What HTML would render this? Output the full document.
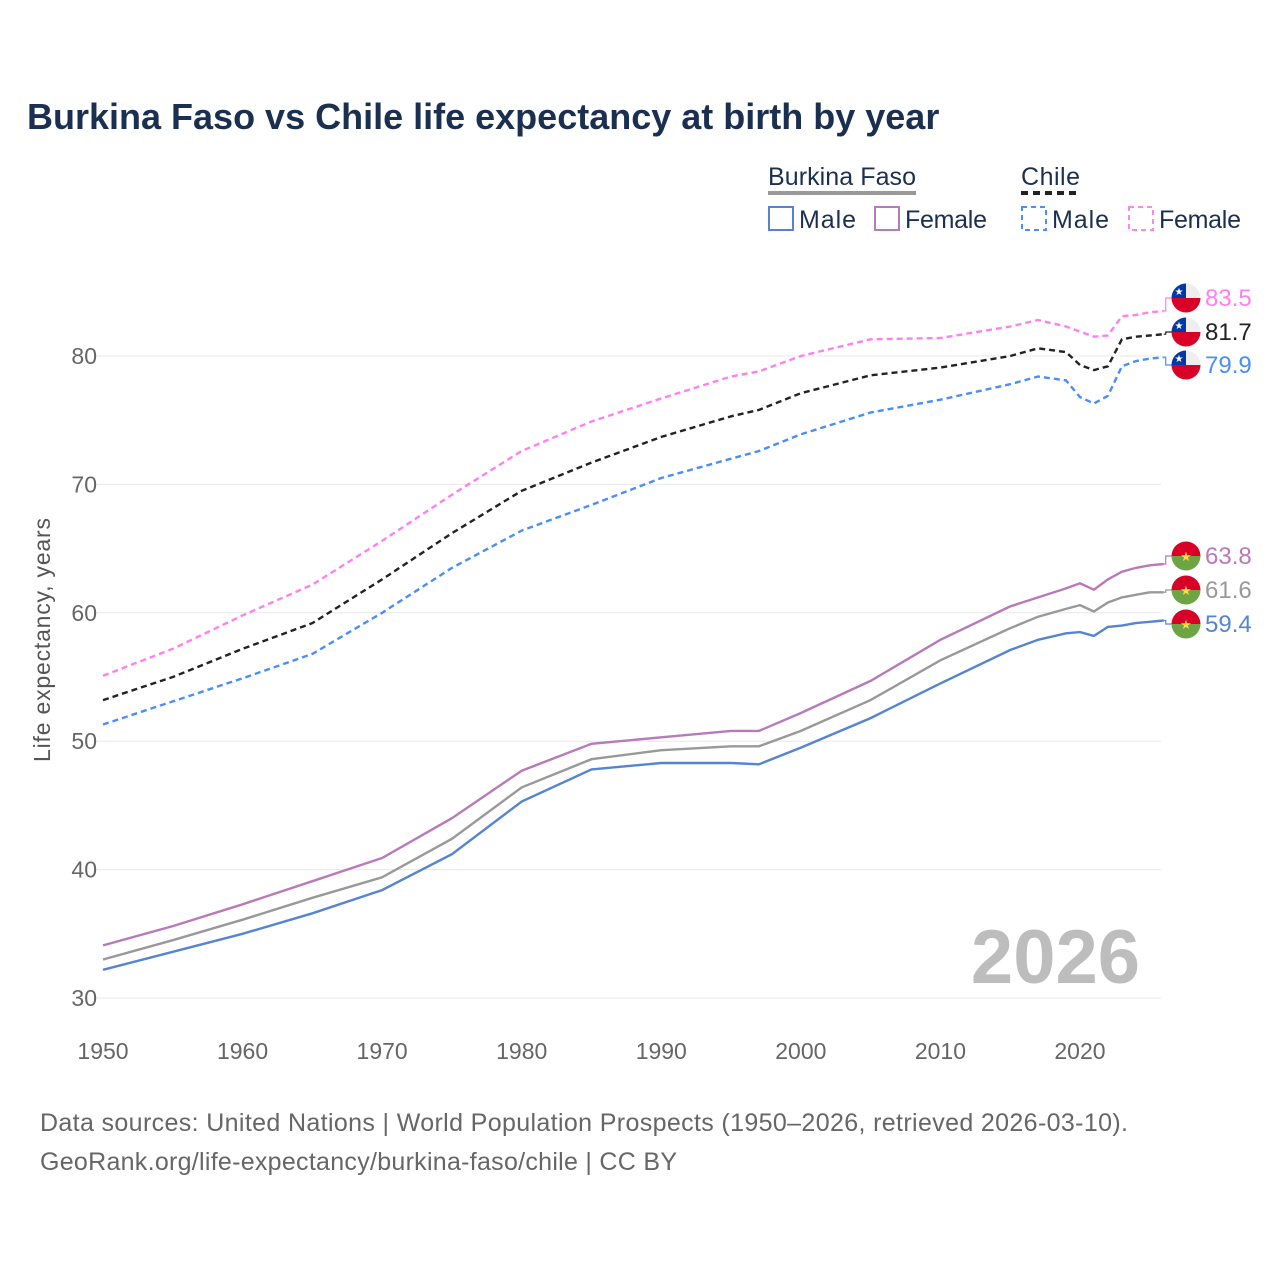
<!DOCTYPE html>
<html><head><meta charset="utf-8"><style>
body{margin:0;background:#fff;font-family:"Liberation Sans",sans-serif}
</style></head><body>
<svg id="chart" width="1280" height="1280" viewBox="0 0 1280 1280" xmlns="http://www.w3.org/2000/svg" font-family="Liberation Sans, sans-serif">
<rect width="1280" height="1280" fill="#fff"/>
<text x="27" y="129" font-size="36" font-weight="bold" fill="#1b3050">Burkina Faso vs Chile life expectancy at birth by year</text>
<g font-size="25" fill="#1b3050">
<text x="768" y="185" textLength="148">Burkina Faso</text>
<line x1="768" y1="193" x2="916" y2="193" stroke="#999" stroke-width="4"/>
<text x="1021" y="185" textLength="59">Chile</text>
<line x1="1021" y1="193" x2="1080" y2="193" stroke="#222" stroke-width="4" stroke-dasharray="7,5"/>
<g><rect x="769" y="207" width="24" height="23" fill="none" stroke="#5585d0" stroke-width="2"/><text x="799" y="228" textLength="57">Male</text></g>
<g><rect x="875" y="207" width="24" height="23" fill="none" stroke="#b87ab8" stroke-width="2"/><text x="905" y="228" textLength="82">Female</text></g>
<g><rect x="1022" y="207" width="24" height="23" fill="none" stroke="#4a8ef7" stroke-width="2" stroke-dasharray="5,4"/><text x="1052" y="228" textLength="57">Male</text></g>
<g><rect x="1129" y="207" width="24" height="23" fill="none" stroke="#ff85f0" stroke-width="2" stroke-dasharray="5,4"/><text x="1159" y="228" textLength="82">Female</text></g>
</g>
<g id="grid"></g>
<g id="axes"></g>
<text transform="translate(50,640) rotate(-90)" text-anchor="middle" font-size="23" fill="#555" textLength="244">Life expectancy, years</text>
<text x="1140" y="983" text-anchor="end" font-size="76" font-weight="bold" fill="#bdbdbd">2026</text>
<g id="series"></g>
<g id="labels"></g>
<text x="40" y="1131" font-size="25" fill="#666" textLength="1088">Data sources: United Nations | World Population Prospects (1950–2026, retrieved 2026-03-10).</text>
<text x="40" y="1170" font-size="25" fill="#666" textLength="637">GeoRank.org/life-expectancy/burkina-faso/chile | CC BY</text>
</svg>
<script>
const years=[1950,1955,1960,1965,1970,1975,1980,1985,1990,1995,1997,2000,2005,2010,2015,2017,2019,2020,2021,2022,2023,2024,2025,2026];
const bfMale=[32.2,33.6,35.0,36.6,38.4,41.2,45.3,47.8,48.3,48.3,48.2,49.5,51.8,54.5,57.1,57.9,58.4,58.5,58.2,58.9,59.0,59.2,59.3,59.4];
const bfTotal=[33.0,34.5,36.1,37.8,39.4,42.4,46.4,48.6,49.3,49.6,49.6,50.8,53.2,56.3,58.8,59.7,60.3,60.6,60.1,60.8,61.2,61.4,61.6,61.6];
const bfFemale=[34.1,35.6,37.3,39.1,40.9,44.0,47.7,49.8,50.3,50.8,50.8,52.2,54.7,57.9,60.5,61.2,61.9,62.3,61.8,62.6,63.2,63.5,63.7,63.8];
const clMale=[51.3,53.1,54.9,56.8,60.0,63.5,66.4,68.4,70.5,72.0,72.6,73.9,75.6,76.6,77.8,78.4,78.1,76.8,76.3,76.9,79.2,79.6,79.8,79.9];
const clTotal=[53.2,55.0,57.2,59.2,62.6,66.2,69.5,71.7,73.7,75.3,75.8,77.1,78.5,79.1,80.0,80.6,80.3,79.3,78.9,79.2,81.3,81.5,81.6,81.7];
const clFemale=[55.1,57.2,59.8,62.2,65.6,69.2,72.6,74.9,76.7,78.4,78.8,80.0,81.3,81.4,82.3,82.8,82.3,81.9,81.5,81.6,83.1,83.2,83.4,83.5];
const yTicks=[30,40,50,60,70,80];
const xTicks=[1950,1960,1970,1980,1990,2000,2010,2020];
const NS="http://www.w3.org/2000/svg";
const X=y=>103+(y-1950)*13.957;
const Y=v=>998-(v-30)*12.84;
function mk(t,a,p){const e=document.createElementNS(NS,t);for(const k in a)e.setAttribute(k,a[k]);p.appendChild(e);return e;}
const grid=document.getElementById('grid'),axes=document.getElementById('axes');
yTicks.forEach(v=>{
 const l=mk('line',{x1:95,x2:1161,y1:Y(v),y2:Y(v),stroke:'#e8e8e8','stroke-width':1},grid);
 
 
 const t=mk('text',{x:97,y:Y(v)+8,'text-anchor':'end','font-size':23,fill:'#666'},axes);
 t.textContent=v;
 
 
});
xTicks.forEach(y=>{
 const t=mk('text',{x:X(y),y:1059,'text-anchor':'middle','font-size':23,fill:'#666'},axes);
 t.textContent=y;
 
 
});
const series=[
 {name:'chile-female',d:clFemale,c:'#ff80f0',dash:'6,4',ly:298,flag:'cl'},
 {name:'chile-total',d:clTotal,c:'#222',dash:'6,4',ly:332,flag:'cl'},
 {name:'chile-male',d:clMale,c:'#4a8ef7',dash:'6,4',ly:365,flag:'cl'},
 {name:'burkina-faso-female',d:bfFemale,c:'#b87ab8',dash:'',ly:556,flag:'bf'},
 {name:'burkina-faso-total',d:bfTotal,c:'#999',dash:'',ly:590,flag:'bf'},
 {name:'burkina-faso-male',d:bfMale,c:'#5585d0',dash:'',ly:624,flag:'bf'}
];
const sg=document.getElementById('series'),lg=document.getElementById('labels');
series.forEach(s=>{
 const pts=years.map((y,i)=>X(y).toFixed(1)+','+Y(s.d[i]).toFixed(1)).join(' ');
 const p=mk('polyline',{points:pts,fill:'none',stroke:s.c,'stroke-width':2.4,'stroke-dasharray':s.dash},sg);
 
 
 const last=s.d[s.d.length-1],ex=X(years[years.length-1]);
 const c=mk('polyline',{points:`${ex},${Y(last)} ${ex+2},${Y(last)} ${ex+2},${s.ly} ${ex+10},${s.ly}`,fill:'none',stroke:s.c,'stroke-width':1.2},lg);
 
 
 const g=mk('g',{},lg);
 
 
 const cx=1186,cy=s.ly,r=14.5;
 const cid='clip-'+s.name;
 const cp=mk('clipPath',{id:cid},g);mk('circle',{cx:cx,cy:cy,r:r},cp);
 const fg=mk('g',{'clip-path':`url(#${cid})`},g);
 if(s.flag==='cl'){
  mk('rect',{x:cx-r,y:cy-r,width:2*r,height:r,fill:'#eee'},fg);
  mk('rect',{x:cx-r,y:cy,width:2*r,height:r,fill:'#d80027'},fg);
  mk('rect',{x:cx-r,y:cy-r,width:r,height:r,fill:'#0039a6'},fg);
  const st=mk('text',{x:cx-7,y:cy-3,'text-anchor':'middle','font-size':10,fill:'#fff'},fg);st.textContent='★';
 }else{
  mk('rect',{x:cx-r,y:cy-r,width:2*r,height:r,fill:'#d80027'},fg);
  mk('rect',{x:cx-r,y:cy,width:2*r,height:r,fill:'#6da544'},fg);
  const st=mk('text',{x:cx,y:cy+5,'text-anchor':'middle','font-size':13,fill:'#ffda44'},fg);st.textContent='★';
 }
 const t=mk('text',{x:1205,y:s.ly+8,'font-size':24,fill:s.c},lg);
 t.textContent=last.toFixed(1);
 
 
});
</script>
</body></html>
